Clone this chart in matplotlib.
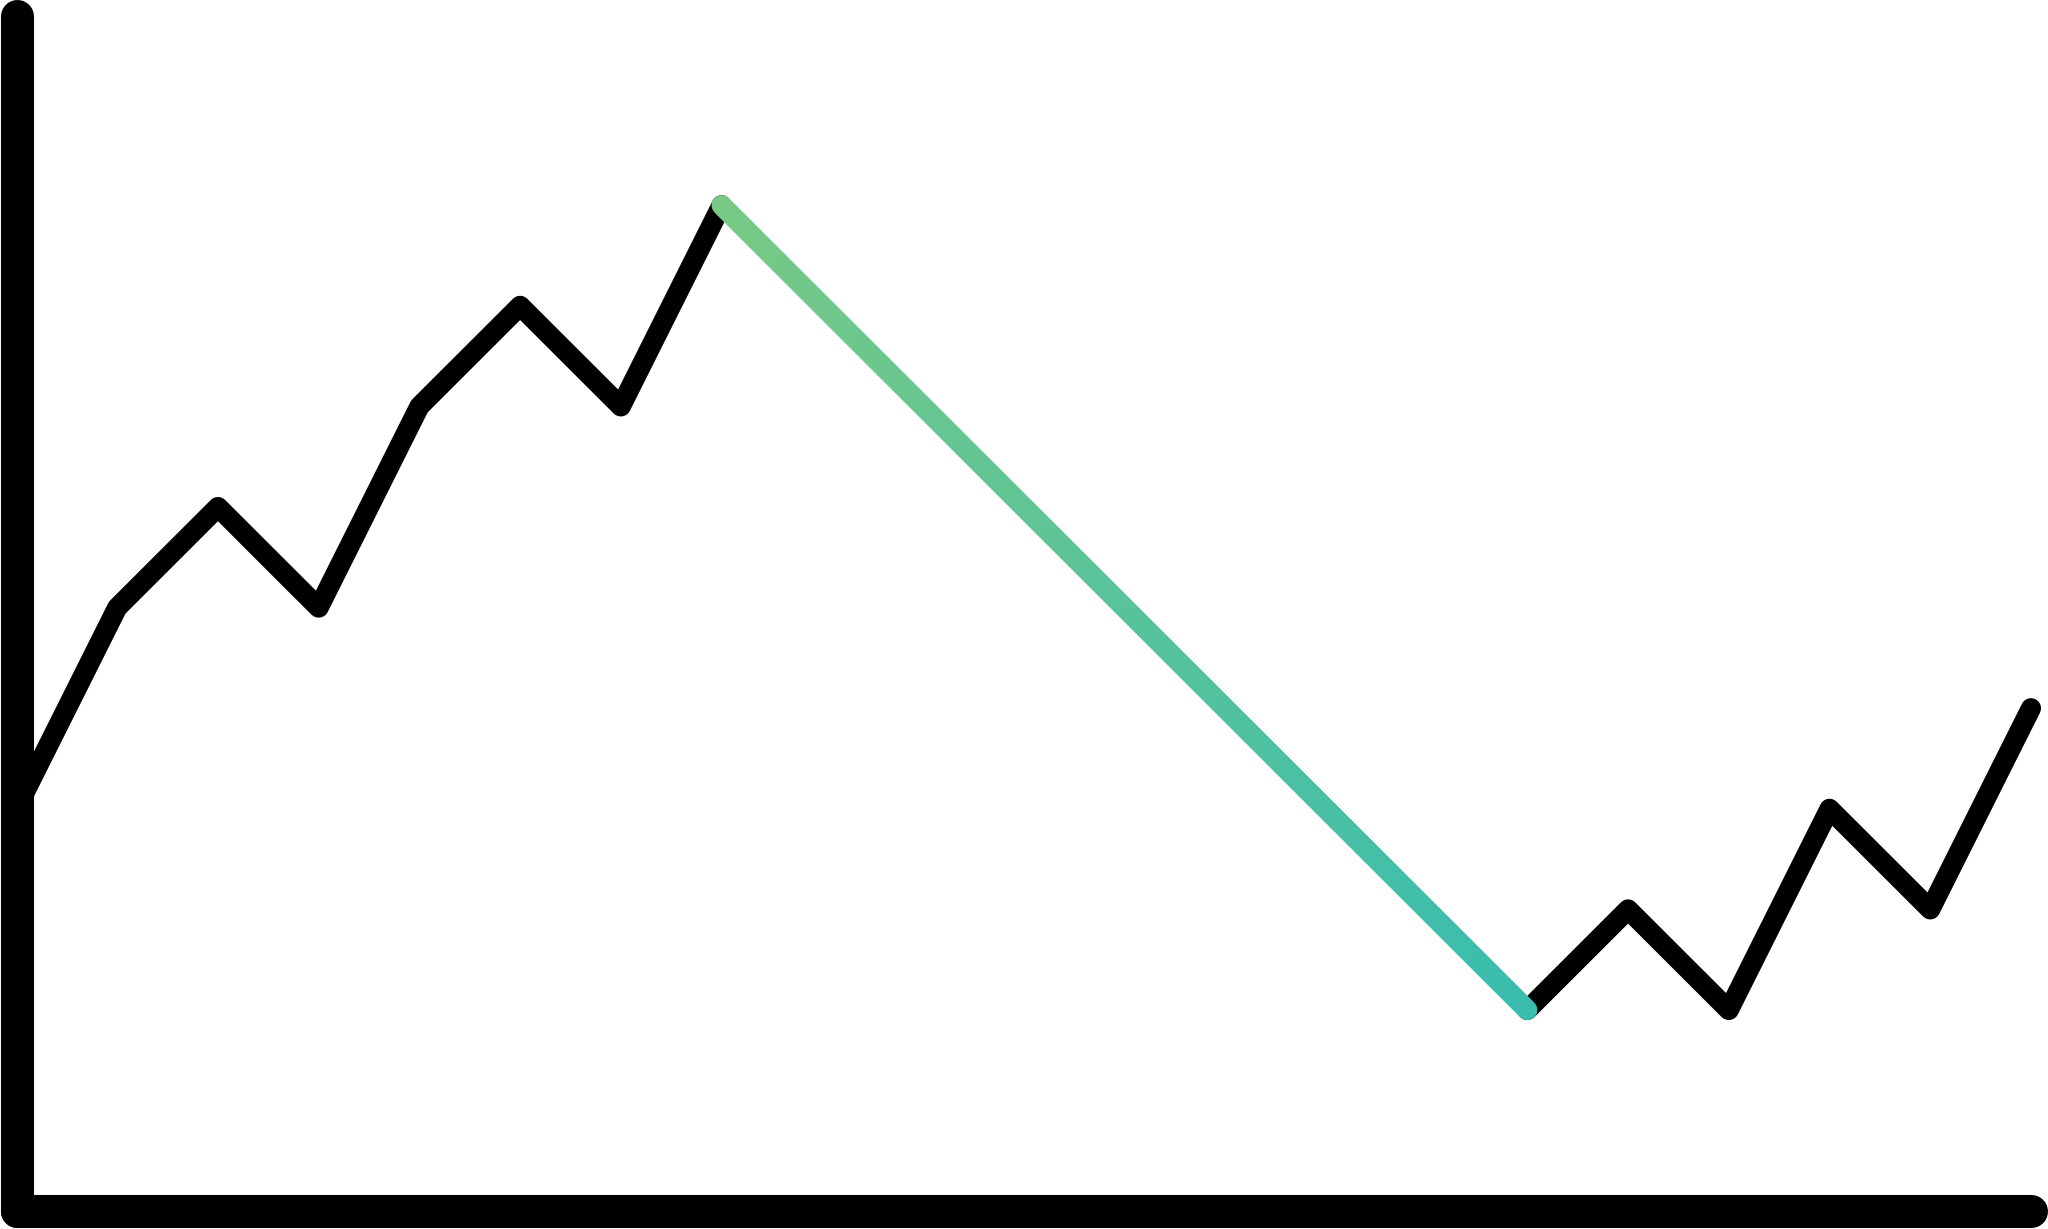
import numpy as np
import matplotlib
matplotlib.use("Agg")
import matplotlib.pyplot as plt
from matplotlib.collections import LineCollection
from matplotlib.colors import to_rgb

# ---- data ----
steps = list(range(21))
values = [4, 6, 7, 6, 8, 9, 8, 10, 9, 8, 7, 6, 5, 4, 3, 2, 3, 2, 4, 3, 5]

# ---- style ----
line_color = "black"
grad_start = "#78C985"
grad_end = "#3ABDAF"
line_w = 14.5
axis_w = 23.8

fig = plt.figure(figsize=(20.48, 12.29), dpi=100)
ax = fig.add_axes([0, 0, 1, 1])
ax.axis("off")
ax.set_xlim(-0.164, 20.169)
ax.set_ylim(-0.177, 12.04)

x = np.array(steps, dtype=float)
y = np.array(values, dtype=float)

# axes drawn as thick rounded lines
ax.plot([x[0], x[0]], [0, 11.876], color="black", lw=axis_w,
        solid_capstyle="round", zorder=1)
ax.plot([x[0], x[-1]], [0, 0], color="black", lw=axis_w,
        solid_capstyle="round", zorder=1)

# maximum drawdown: peak -> trough
runmax = np.maximum.accumulate(y)
dd = runmax - y
trough = int(np.argmax(dd))
peak = int(np.argmax(y[:trough + 1]))

# black parts
ax.plot(x[:peak + 1], y[:peak + 1], color=line_color, lw=line_w,
        solid_capstyle="round", solid_joinstyle="round", zorder=2)
ax.plot(x[trough:], y[trough:], color=line_color, lw=line_w,
        solid_capstyle="round", solid_joinstyle="round", zorder=2)

# gradient drawdown segment
xs, ys = [], []
n_sub = 40
for i in range(peak, trough):
    t = np.linspace(0, 1, n_sub, endpoint=False)
    xs.extend(x[i] + (x[i + 1] - x[i]) * t)
    ys.extend(y[i] + (y[i + 1] - y[i]) * t)
xs.append(x[trough]); ys.append(y[trough])
xs = np.array(xs); ys = np.array(ys)
pts = np.column_stack([xs, ys]).reshape(-1, 1, 2)
segs = np.concatenate([pts[:-1], pts[1:]], axis=1)
c0 = np.array(to_rgb(grad_start)); c1 = np.array(to_rgb(grad_end))
f = np.linspace(0, 1, len(segs))[:, None]
cols = c0 * (1 - f) + c1 * f
lc = LineCollection(segs, colors=cols, linewidths=line_w, capstyle="round",
                    joinstyle="round", zorder=3)
ax.add_collection(lc)

fig.savefig("out.png", dpi=100)
